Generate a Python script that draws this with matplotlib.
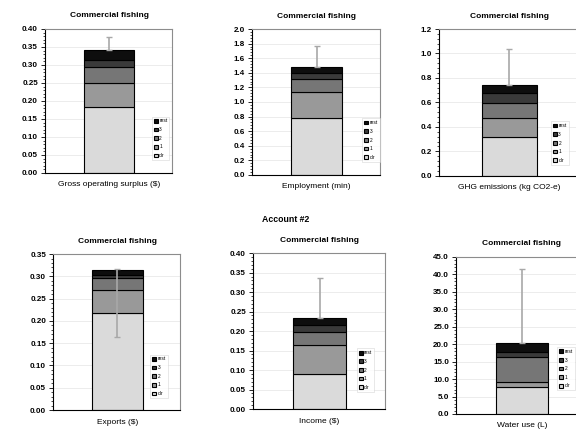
import numpy as np
import matplotlib
matplotlib.use('Agg')
import matplotlib.pyplot as plt
from matplotlib.ticker import AutoMinorLocator, MultipleLocator, FormatStrFormatter

plt.rcParams['font.family'] = ['Liberation Sans', 'DejaVu Sans']

# stacked components, bottom to top
components = ['dir', '1', '2', '3', 'rest']
colors = ['#dadada', '#999999', '#767676', '#3a3a3a', '#0e0e0e']

indicators = ['Gross operating surplus ($)', 'Employment (min)', 'GHG emissions (kg CO2-e)',
              'Exports ($)', 'Income ($)', 'Water use (L)']

dir_vals = [0.184, 0.776, 0.316, 0.217, 0.0906, 7.8]
one_vals = [0.065, 0.364, 0.155, 0.052, 0.0724, 1.4]
two_vals = [0.046, 0.175, 0.122, 0.0265, 0.034, 7.2]
three_vals = [0.019, 0.085, 0.082, 0.008, 0.018, 1.5]
rest_vals = [0.028, 0.080, 0.068, 0.0105, 0.018, 2.4]

err_upper = [0.036, 0.29, 0.29, 0.003, 0.103, 21.3]
err_lower = [0.0, 0.0, 0.0, 0.15, 0.0, 0.0]

ymax = [0.40, 2.0, 1.2, 0.35, 0.40, 45.0]
ystep = [0.05, 0.2, 0.2, 0.05, 0.05, 5.0]
yfmt = ['%.2f', '%.1f', '%.1f', '%.2f', '%.2f', '%.1f']

# axes rectangles in figure fraction
positions = [
    [0.078, 0.6005, 0.2205, 0.3326],
    [0.4375, 0.596, 0.222, 0.337],
    [0.762, 0.594, 0.242, 0.339],
    [0.092, 0.0531, 0.2205, 0.360],
    [0.439, 0.0554, 0.229, 0.360],
    [0.7917, 0.0439, 0.2257, 0.3626],
]
# legend lower-right anchor in axes fraction
legend_anchor = [(0.98, 0.09), (1.0, 0.09), (0.93, 0.075),
                 (0.905, 0.077), (0.92, 0.11), (0.915, 0.15)]

stack = np.array([dir_vals, one_vals, two_vals, three_vals, rest_vals])

fig = plt.figure(figsize=(5.76, 4.33), dpi=100)

for i in range(6):
    ax = fig.add_axes(positions[i])
    bottom = 0.0
    handles = []
    for k in range(len(components)):
        h = ax.bar(0, stack[k, i], width=1.0, bottom=bottom, color=colors[k],
                   edgecolor='black', linewidth=0.8, label=components[k], zorder=2)
        handles.append(h)
        bottom += stack[k, i]
    total = stack[:, i].sum()
    ax.errorbar(0, total, yerr=[[err_lower[i]], [err_upper[i]]], color='#a8a8a8',
                elinewidth=1.2, capsize=2.5, capthick=1.0, zorder=3)

    ax.set_xlim(-1.27, 1.24)
    ax.set_ylim(0, ymax[i])
    ax.yaxis.set_major_locator(MultipleLocator(ystep[i]))
    ax.yaxis.set_minor_locator(AutoMinorLocator(5))
    ax.yaxis.set_major_formatter(FormatStrFormatter(yfmt[i]))
    ax.set_xticks([])
    ax.tick_params(axis='y', which='major', labelsize=5.8, length=3, width=0.6, pad=2)
    ax.tick_params(axis='y', which='minor', length=1.5, width=0.5)
    for lab in ax.get_yticklabels():
        lab.set_fontweight('bold')
    ax.grid(axis='y', color='#e4e4e4', linewidth=0.5, zorder=0)
    ax.set_axisbelow(True)
    ax.spines['left'].set_linewidth(0.8)
    ax.spines['bottom'].set_linewidth(0.8)
    for s in ['top', 'right']:
        ax.spines[s].set_color('#8c8c8c')
        ax.spines[s].set_linewidth(0.8)

    ax.text(0, 1.0 + 13 / (positions[i][3] * 433), 'Commercial fishing',
            transform=ax.get_xaxis_transform(), ha='center', va='center',
            fontsize=6, fontweight='bold')
    ax.text(0, -12 / (positions[i][3] * 433), indicators[i],
            transform=ax.get_xaxis_transform(), ha='center', va='center',
            fontsize=6)

    leg = ax.legend(handles[::-1], components[::-1], loc='lower right',
                    bbox_to_anchor=legend_anchor[i], fontsize=3.5, frameon=True,
                    handlelength=0.8, handleheight=0.8, handletextpad=0.3,
                    labelspacing=0.75, borderpad=0.4, borderaxespad=0.0)
    leg.get_frame().set_edgecolor('#cccccc')
    leg.get_frame().set_linewidth(0.4)
    leg.get_frame().set_boxstyle('square', pad=0)

fig.text(286 / 576, 1 - 219 / 433, 'Account #2', ha='center', va='center',
         fontsize=6.3, fontweight='bold')

fig.savefig('out.png', dpi=100)
